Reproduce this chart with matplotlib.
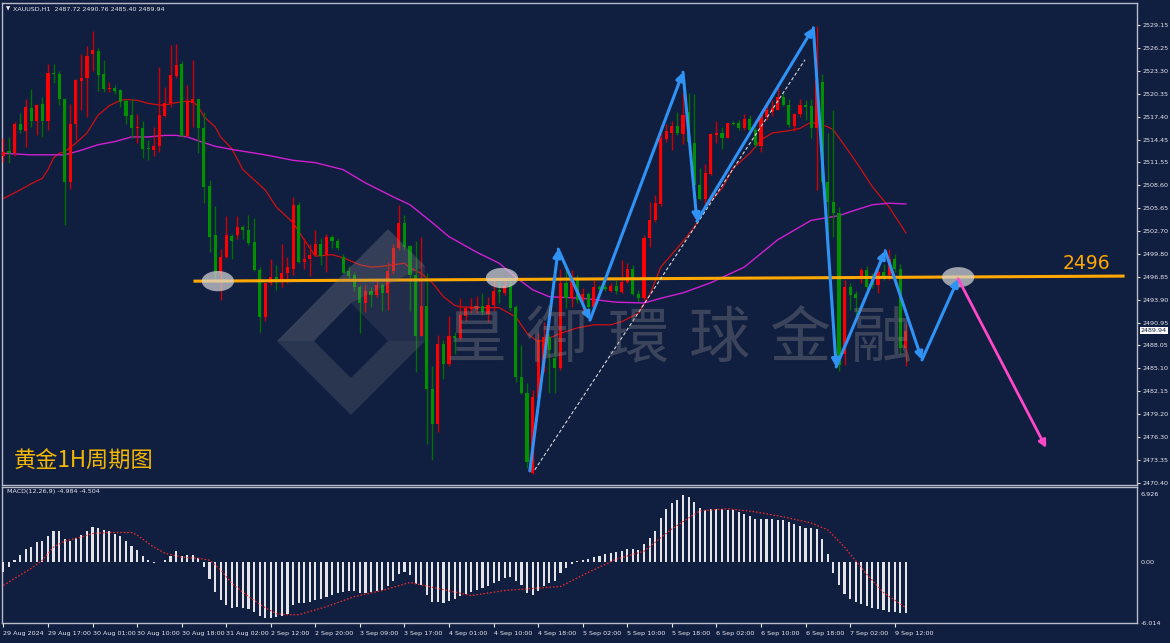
import matplotlib
matplotlib.use("Agg")
import matplotlib.pyplot as plt
from matplotlib.patches import Ellipse, Polygon
from matplotlib import font_manager
import matplotlib.transforms as mtransforms
import numpy as np

# ---------------- data ----------------
opens = [2512.3,2513.0,2512.7,2516.4,2515.6,2518.5,2516.9,2519.0,2516.9,2523.0,
         2522.9,2519.7,2509.0,2516.5,2522.0,2522.3,2525.5,2525.8,2522.9,2521.0,
         2521.1,2520.8,2519.4,2517.6,2515.9,2515.9,2513.35,2513.1,2513.6,2517.5,
         2519.1,2522.6,2524.1,2514.9,2519.2,2519.7,2516.0,2508.5,2502.2,2497.3,
         2499.4,2502.1,2502.2,2503.2,2502.9,2501.3,2497.7,2491.7,2496.1,2496.8,
         2496.4,2497.4,2497.9,2506.1,2498.7,2499.1,2499.7,2501.1,2499.7,2501.9,
         2501.5,2499.4,2497.6,2497.1,2495.6,2493.5,2495.1,2494.5,2495.8,2494.8,
         2497.6,2500.5,2503.8,2500.8,2497.1,2489.3,2493.1,2482.5,2478.0,2488.2,
         2485.7,2489.3,2489.0,2491.8,2492.7,2492.7,2493.1,2492.1,2493.2,2495.2,
         2494.8,2495.8,2493.0,2484.0,2481.9,2471.7,2481.3,2485.1,2489.1,2486.4,
         2485.1,2496.0,2494.1,2496.7,2493.8,2494.7,2493.0,2495.5,2495.6,2495.1,
         2495.7,2494.9,2496.2,2497.9,2494.7,2494.1,2501.8,2504.1,2506.2,2514.5,
         2515.3,2516.2,2515.2,2518.0,2514.0,2508.6,2506.9,2510.1,2515.0,2515.3,
         2514.7,2516.6,2516.6,2515.9,2517.1,2515.7,2513.6,2517.4,2518.0,2518.2,
         2519.9,2518.9,2516.2,2517.7,2518.9,2518.8,2515.9,2521.9,2509.0,2506.5,
         2505.1,2487.0,2495.6,2494.7,2496.7,2497.7,2496.7,2495.8,2497.5,2497.1,
         2499.2,2497.9,2487.72]
highs = [2514.6,2514.8,2516.7,2517.9,2519.7,2520.9,2519.0,2519.9,2524.1,2524.1,
         2523.2,2519.8,2519.0,2522.2,2525.5,2526.5,2528.4,2526.2,2524.7,2521.9,
         2521.5,2520.9,2519.7,2519.7,2517.7,2516.8,2514.4,2516.1,2523.8,2521.2,
         2526.6,2526.7,2524.6,2521.4,2524.7,2519.7,2518.0,2509.3,2505.9,2500.4,
         2504.6,2502.3,2504.6,2503.5,2504.8,2504.4,2498.1,2496.0,2499.2,2498.4,
         2501.1,2499.4,2507.1,2506.5,2501.8,2501.1,2502.9,2501.8,2502.3,2502.2,
         2501.8,2499.8,2498.2,2497.5,2495.8,2495.8,2495.6,2496.7,2496.0,2498.8,
         2501.1,2506.1,2504.8,2500.9,2501.4,2501.9,2497.3,2485.4,2489.4,2488.8,
         2491.8,2489.8,2494.1,2493.1,2494.2,2494.4,2494.8,2494.3,2496.4,2496.2,
         2496.4,2496.4,2493.2,2488.1,2483.2,2482.3,2489.7,2491.0,2489.6,2488.9,
         2497.9,2498.2,2497.7,2497.1,2495.4,2494.9,2496.4,2495.8,2495.9,2496.0,
         2496.4,2499.0,2498.6,2498.4,2495.2,2502.2,2506.5,2507.4,2516.3,2516.5,
         2516.8,2518.0,2520.4,2520.4,2520.3,2510.8,2511.3,2515.3,2516.8,2516.1,
         2516.6,2516.8,2517.0,2517.8,2517.6,2516.1,2517.8,2519.0,2519.5,2521.4,
         2520.4,2519.7,2517.9,2519.7,2519.5,2519.7,2529.0,2522.9,2515.3,2518.2,
         2505.8,2496.4,2496.0,2495.1,2498.0,2498.3,2497.3,2498.0,2498.5,2500.4,
         2499.8,2498.5,2490.76]
lows = [2511.6,2511.4,2512.3,2515.3,2513.5,2516.1,2515.0,2514.8,2515.7,2521.7,
        2518.9,2503.5,2508.1,2514.4,2518.2,2517.3,2523.2,2520.7,2520.6,2520.5,
        2520.3,2518.7,2516.5,2514.6,2514.0,2512.1,2511.9,2512.3,2512.9,2517.4,
        2518.7,2522.3,2514.8,2514.8,2516.1,2512.7,2506.3,2500.1,2496.4,2493.9,
        2499.3,2499.2,2501.7,2501.7,2500.9,2497.6,2489.8,2491.2,2495.8,2495.2,
        2495.6,2496.0,2497.1,2498.6,2497.9,2496.9,2499.5,2498.4,2497.5,2500.5,
        2500.3,2497.3,2496.7,2495.0,2489.6,2492.3,2493.0,2494.3,2492.5,2492.6,
        2497.2,2500.3,2500.3,2492.5,2484.6,2489.2,2475.4,2473.4,2477.0,2483.7,
        2485.4,2487.0,2488.7,2491.2,2492.2,2492.2,2492.0,2491.1,2492.5,2493.5,
        2494.5,2492.5,2483.4,2481.8,2472.3,2471.6,2480.8,2484.7,2481.9,2481.9,
        2484.9,2492.8,2493.0,2493.5,2492.4,2492.2,2492.8,2495.1,2495.0,2494.9,
        2494.7,2494.8,2496.0,2494.5,2493.7,2493.9,2500.7,2503.9,2505.9,2514.2,
        2513.1,2515.0,2513.9,2513.2,2508.4,2506.7,2505.9,2509.9,2514.0,2513.3,
        2514.6,2516.3,2515.7,2515.7,2515.5,2513.5,2512.9,2517.0,2517.5,2518.2,
        2518.8,2516.1,2515.5,2517.4,2517.0,2514.6,2508.0,2508.8,2500.3,2502.0,
        2484.8,2485.5,2492.6,2492.0,2496.0,2495.3,2495.4,2494.8,2496.5,2496.4,
        2497.5,2487.0,2485.40]
closes = [2512.9,2512.7,2516.4,2515.7,2518.6,2516.8,2518.9,2516.9,2523.0,2522.9,
          2519.7,2509.0,2516.5,2522.1,2522.4,2525.2,2525.9,2522.7,2520.9,2521.1,
          2520.7,2519.3,2517.5,2515.9,2516.0,2513.3,2513.3,2513.7,2517.6,2519.2,
          2522.7,2524.0,2514.9,2519.4,2519.7,2516.0,2508.4,2502.0,2497.3,2499.4,
          2502.2,2501.4,2503.2,2502.8,2501.2,2497.7,2491.7,2496.0,2496.8,2496.4,
          2497.4,2498.1,2506.1,2498.7,2499.2,2499.7,2501.1,2499.5,2501.9,2501.4,
          2500.6,2497.4,2497.0,2495.6,2493.5,2495.1,2494.5,2495.8,2494.8,2497.6,
          2500.6,2503.8,2500.7,2497.1,2489.3,2493.1,2482.5,2478.0,2488.2,2485.7,
          2489.3,2489.0,2491.9,2492.9,2493.0,2493.1,2492.3,2493.2,2495.1,2494.9,
          2495.7,2492.8,2484.0,2481.9,2473.1,2481.5,2488.8,2489.1,2487.5,2485.1,
          2496.0,2494.1,2496.4,2493.9,2494.7,2493.0,2495.5,2495.3,2495.3,2495.7,
          2495.0,2496.2,2497.9,2494.7,2494.1,2501.8,2504.2,2506.3,2514.6,2515.5,
          2516.2,2515.3,2517.6,2514.2,2508.6,2506.9,2510.2,2515.2,2515.3,2514.6,
          2516.6,2516.4,2515.9,2517.1,2515.7,2513.8,2517.6,2518.2,2518.5,2519.9,
          2518.9,2516.3,2517.7,2518.9,2518.7,2515.9,2522.1,2509.0,2506.5,2505.1,
          2485.6,2495.6,2494.5,2494.2,2497.7,2495.6,2495.8,2497.5,2496.9,2499.2,
          2497.9,2487.7,2489.94]

macd_hist = [-0.92,-0.5,0.23,0.72,1.31,1.54,1.96,2.09,2.62,3.1,
             3.1,2.26,2.09,2.42,2.68,3.1,3.53,3.43,3.24,3.07,
             2.85,2.58,2.09,1.6,1.21,0.65,0.23,-0.1,0.07,0.23,
             0.65,1.11,0.62,0.69,0.69,0.39,-0.43,-1.64,-2.94,-3.76,
             -4.28,-4.5,-4.45,-4.5,-4.68,-4.94,-5.33,-5.5,-5.5,-5.4,
             -5.33,-5.17,-4.19,-4.02,-4.0,-3.9,-3.7,-3.6,-3.4,-3.2,
             -3.0,-2.9,-2.8,-2.8,-3.0,-3.0,-2.9,-2.8,-2.7,-2.4,
             -1.9,-1.2,-1.0,-1.3,-2.2,-2.3,-3.2,-3.9,-3.9,-4.0,
             -3.8,-3.6,-3.3,-3.1,-2.9,-2.7,-2.6,-2.4,-2.1,-1.9,
             -1.6,-1.5,-1.9,-2.3,-3.0,-3.2,-2.8,-2.4,-2.1,-1.9,
             -1.1,-0.6,-0.2,0.1,0.2,0.3,0.5,0.6,0.8,0.9,
             1.0,1.1,1.3,1.3,1.2,1.8,2.4,3.1,4.4,5.3,
             5.9,6.2,6.7,6.5,6.0,5.4,5.2,5.3,5.3,5.3,
             5.2,5.2,5.0,4.8,4.6,4.3,4.3,4.3,4.3,4.2,
             4.2,4.0,3.8,3.6,3.4,3.4,3.3,2.3,0.8,-1.1,
             -2.3,-3.1,-3.6,-3.9,-4.1,-4.3,-4.5,-4.6,-4.7,-4.9,
             -4.9,-5.0,-4.984]

signal_idx = [0,2,5,7,9,11,14,16,19,23,24,27,29,32,35,37,39,41,44,47,49,51,53,
              58,63,68,73,78,84,90,95,100,105,110,115,120,125,130,135,140,145,148,
              151,155,158,162]
signal_val = [-2.3,-1.6,-0.6,0.2,1.5,2.1,2.5,2.85,2.95,2.95,2.7,1.5,0.9,0.5,0.4,0.2,
              -0.75,-2.1,-3.4,-4.5,-5.1,-5.2,-5.2,-4.4,-3.4,-2.8,-2.0,-2.6,-3.3,-2.8,
              -2.6,-2.4,-1.0,0.3,1.1,3.3,5.1,5.3,5.0,4.5,3.9,3.2,1.5,-1.2,-3.0,-4.504]

ma_red_idx = [0,3,5,7,8,9,10,11,13,15,17,19,21,22,24,26,28,29,31,33,34,35,36,38,39,
              41,43,47,49,52,54,56,59,61,64,66,68,70,72,73,75,77,79,81,82,86,89,92,
              94,96,98,100,103,106,109,111,114,116,118,122,124,126,129,131,134,136,
              138,141,143,145,148,149,152,154,156,159,162]
ma_red_val = [2506.9,2508.0,2508.8,2509.5,2510.6,2512.1,2512.7,2512.9,2514.0,2515.3,
              2517.6,2518.8,2519.5,2519.6,2519.5,2519.1,2518.9,2518.9,2519.2,2519.4,
              2519.3,2518.7,2517.4,2516.1,2514.8,2513.3,2510.6,2508.0,2505.8,2503.8,
              2501.6,2499.5,2499.7,2499.3,2498.4,2498.1,2498.2,2498.4,2498.6,2498.0,
              2497.3,2496.1,2494.3,2493.2,2493.0,2492.9,2492.9,2491.7,2489.6,2488.5,
              2489.0,2489.6,2490.3,2490.7,2490.7,2491.1,2492.2,2494.5,2498.1,2501.4,
              2503.2,2505.8,2508.2,2510.8,2512.7,2514.4,2515.3,2515.6,2515.9,2516.7,
              2516.1,2515.7,2512.7,2510.6,2508.4,2505.8,2502.5]

ma_mag_idx = [0,5,9,11,14,17,20,23,26,29,31,33,35,38,41,47,52,56,61,65,70,73,77,80,
              85,89,92,95,98,104,110,115,118,122,127,133,139,145,150,152,156,159,162]
ma_mag_val = [2512.7,2512.5,2512.5,2512.5,2513.1,2513.8,2514.2,2514.8,2514.8,2515.0,
              2515.0,2514.8,2514.3,2513.6,2513.2,2512.5,2511.8,2511.5,2510.6,2508.9,
              2507.1,2506.1,2503.8,2502.0,2500.0,2498.6,2496.8,2495.2,2494.3,2494.1,
              2493.6,2493.5,2494.1,2494.8,2496.1,2498.1,2501.6,2504.1,2504.7,2505.2,
              2506.1,2506.3,2506.2]

price_ticks = [2529.15,2526.25,2523.30,2520.35,2517.40,2514.45,2511.55,2508.60,2505.65,
               2502.70,2499.80,2496.85,2493.90,2490.95,2488.05,2485.10,2482.15,2479.20,
               2476.30,2473.35,2470.40]
macd_ticks = [6.926, 0.0, -6.014]
macd_tick_labels = ["6.926", "0.00", "-6.014"]

time_tick_idx = list(range(0, 161, 8))
time_labels = ["29 Aug 2024","29 Aug 17:00","30 Aug 01:00","30 Aug 10:00","30 Aug 18:00",
               "31 Aug 02:00","2 Sep 12:00","2 Sep 20:00","3 Sep 09:00","3 Sep 17:00",
               "4 Sep 01:00","4 Sep 10:00","4 Sep 18:00","5 Sep 02:00","5 Sep 10:00",
               "5 Sep 18:00","6 Sep 02:00","6 Sep 10:00","6 Sep 18:00","7 Sep 02:00",
               "9 Sep 12:00"]

level_price = [2496.3, 2496.95]           # orange support line (start, end)
level_idx = [34.4, 201.0]
ellipse_idx = [38.5, 89.5, 171.4]
ellipse_price = [2496.3, 2496.7, 2496.8]
zigzag_idx = [94.5, 99.6, 105.3, 122.0, 124.5, 145.4, 149.5, 158.3, 164.9, 171.4]
zigzag_price = [2471.95, 2500.4, 2491.3, 2523.1, 2504.0, 2528.8, 2485.3, 2500.2, 2486.2, 2496.6]
forecast_idx = [171.4, 187.2]
forecast_price = [2496.6, 2474.9]
trend_idx = [95.4, 143.9]
trend_price = [2472.1, 2524.7]
last_close = 2489.94

# ---------------- style ----------------
W, H = 1170, 643
BG = "#101e40"
FG = "#e8e8ee"
SPINE = "#b8bcc8"
UP = "#ff0000"
DOWN = "#009000"
UP_W = "#d00000"
DOWN_W = "#007000"

_names = {f.name for f in font_manager.fontManager.ttflist}
if "Liberation Sans Narrow" in _names:
    SMALL_FAMILY = ["Liberation Sans Narrow", "DejaVu Sans"]
    SMALL = 6.0
else:
    SMALL_FAMILY = ["DejaVu Sans"]
    SMALL = 4.6

plt.rcParams["font.family"] = ["DejaVu Sans"]
fig = plt.figure(figsize=(W / 100, H / 100), dpi=100)
fig.patch.set_facecolor(BG)

def fx(x):
    return x / W

def fy(y):
    return 1 - y / H

L, R = 2, 1137
ax = fig.add_axes([fx(L), fy(485), fx(R) - fx(L), fy(3) - fy(485)])
ax2 = fig.add_axes([fx(L), fy(623), fx(R) - fx(L), fy(487) - fy(623)], sharex=ax)
for a in (ax, ax2):
    a.set_facecolor(BG)
    for s in a.spines.values():
        s.set_color(SPINE)
        s.set_linewidth(1.0)

ax.set_xlim(-0.25, 203.5)
ax.set_ylim(2470.15, 2531.98)
ax2.set_ylim(-6.02, 7.46)

# ---------------- watermark ----------------
def poly(pts, **kw):
    fig.patches.append(Polygon([(fx(x), fy(y)) for x, y in pts], closed=True,
                               transform=fig.transFigure, **kw))

WM = "#8a8a8a"
# upper-left band (lighter)
poly([(277, 341), (388, 229), (425, 266), (351, 303), (314, 341)],
     facecolor=WM, alpha=0.30, edgecolor="none", zorder=0.5)
# lower band (darker)
poly([(277, 341), (314, 341), (351, 378), (388, 341), (425, 341), (351, 415)],
     facecolor=WM, alpha=0.22, edgecolor="none", zorder=0.5)
# right side band
poly([(425, 266), (425, 341), (388, 341), (351, 303)],
     facecolor=WM, alpha=0.14, edgecolor="none", zorder=0.5)

wm_chars = ["皇", "御", "環", "球", "金", "融"]
for k, ch in enumerate(wm_chars):
    fig.text(fx(476 + k * 81), fy(340), ch, fontsize=44, color=WM, alpha=0.36,
             ha="center", va="center", family=["Noto Sans CJK TC", "DejaVu Sans"], zorder=0.5)

# ---------------- candles ----------------
o = np.array(opens); h = np.array(highs); l = np.array(lows); c = np.array(closes)
idx = np.arange(len(o))
up = c >= o
ax.vlines(idx[up], l[up], h[up], color=UP_W, lw=1.0, zorder=3)
ax.vlines(idx[~up], l[~up], h[~up], color=DOWN_W, lw=1.0, zorder=3)
body = np.maximum(np.abs(c - o), 0.12)
ax.bar(idx, body, bottom=np.minimum(o, c), width=0.56,
       color=np.where(up, UP, DOWN), linewidth=0, zorder=4)

# moving averages
ax.plot(ma_red_idx, ma_red_val, color="#d01010", lw=0.9, zorder=2)
ax.plot(ma_mag_idx, ma_mag_val, color="#d020d0", lw=1.0, zorder=2)

# ---------------- annotations ----------------
ax.plot(level_idx, level_price, color="#ffa800", lw=2.2, zorder=5)
ax.text(194.4, 2498.5, "2496", color="#ffa800", fontsize=13.5, ha="center", va="center", zorder=6)
for xi, pi in zip(ellipse_idx, ellipse_price):
    ax.add_patch(Ellipse((xi, pi), 5.8, 2.6, facecolor="#d8d8d8", alpha=0.7,
                         edgecolor="none", zorder=6))

ax.plot(trend_idx, trend_price, color="#d8d8d8", lw=0.8, ls=(0, (3, 2)), zorder=6)
BLUE = "#2e93f5"
for k in range(len(zigzag_idx) - 1):
    ax.annotate("", xy=(zigzag_idx[k + 1], zigzag_price[k + 1]),
                xytext=(zigzag_idx[k], zigzag_price[k]),
                arrowprops=dict(arrowstyle="-|>", color=BLUE, lw=2.2, mutation_scale=11,
                                shrinkA=0, shrinkB=0), zorder=7)
ax.annotate("", xy=(forecast_idx[1], forecast_price[1]), xytext=(forecast_idx[0], forecast_price[0]),
            arrowprops=dict(arrowstyle="-|>", color="#ff48c8", lw=2.0, mutation_scale=11,
                            shrinkA=0, shrinkB=0), zorder=7)

fig.text(fx(14), fy(461), "黄金1H周期图", color="#f5b800", fontsize=16,
         ha="left", va="center", family=["Noto Sans CJK SC", "DejaVu Sans"], zorder=10)

fig.text(fx(13), fy(9), "XAUUSD,H1  2487.72 2490.76 2485.40 2489.94", color=FG,
         fontsize=SMALL, ha="left", va="center", family=SMALL_FAMILY)
fig.text(fx(8.5), fy(9), "▼", color=FG, fontsize=4, ha="center", va="center")
fig.text(fx(7), fy(492), "MACD(12,26,9) -4.984 -4.504", color=FG, fontsize=SMALL,
         ha="left", va="center", family=SMALL_FAMILY)

# ---------------- MACD ----------------
ax2.bar(idx, macd_hist, width=0.38, color="#e4e4e8", linewidth=0, zorder=3)
ax2.plot(signal_idx, signal_val, color="#ff2a2a", lw=0.9, ls=(0, (1.2, 1.6)), zorder=4)

# ---------------- axes ticks ----------------
ax.yaxis.tick_right()
ax.set_yticks(price_ticks)
ax.set_yticklabels([f"{v:.2f}" for v in price_ticks], family=SMALL_FAMILY)
ax.tick_params(axis="y", colors=FG, labelsize=SMALL, length=2.5, width=0.8, pad=1.5)
ax.tick_params(axis="x", bottom=False, labelbottom=False)

ax2.yaxis.tick_right()
ax2.set_yticks(macd_ticks)
ax2.set_yticklabels(macd_tick_labels, family=SMALL_FAMILY)
ax2.tick_params(axis="y", colors=FG, labelsize=SMALL, length=0, pad=2.5)
for t, v in zip(ax2.get_yticklabels(), macd_ticks):
    if v > 0:
        t.set_va("top")
ax2.set_xticks(time_tick_idx)
ax2.set_xticklabels(time_labels, family=SMALL_FAMILY)
ax2.tick_params(axis="x", colors=FG, labelsize=SMALL, length=3, width=0.8, pad=2.5,
                direction="out")
for t in ax2.get_xticklabels():
    t.set_ha("left")

# current price tag
trans = mtransforms.blended_transform_factory(ax.transAxes, ax.transData)
ax.text(1.0035, last_close, f"{last_close:.2f}", transform=trans, fontsize=SMALL,
        color="#101e40", ha="left", va="center", clip_on=False, zorder=10,
        family=SMALL_FAMILY,
        bbox=dict(boxstyle="square,pad=0.15", facecolor="white", edgecolor="none"))

fig.savefig("out.png", dpi=100, facecolor=BG)
